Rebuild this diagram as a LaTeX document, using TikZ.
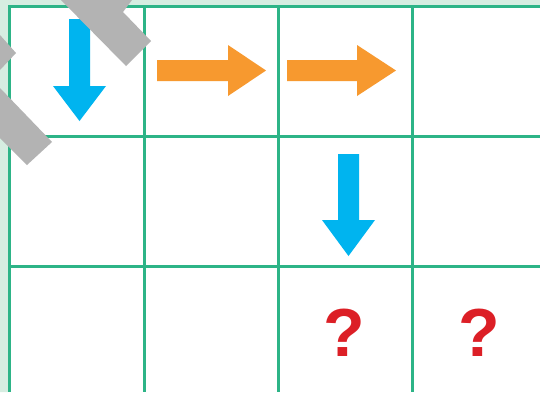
\documentclass[tikz,border=0pt]{standalone}
\usepackage{fontspec}
\setmainfont{Liberation Sans}
\usepackage{tikz}
\usetikzlibrary{calc}
\definecolor{bleu}{HTML}{00B4EF}
\definecolor{orange}{HTML}{F7992F}
\definecolor{gris}{HTML}{B3B3B3}
\definecolor{vertgrille}{HTML}{2DB487}
\definecolor{fond}{HTML}{D6EDE1}
\definecolor{rouge}{HTML}{DC1F26}
\tikzset{grid line/.style={draw=vertgrille,line width=3pt},down arrow/.style={fill=bleu},right arrow/.style={fill=orange},
 bar/.style={fill=gris},qmark/.style={text=rouge,font=\bfseries\fontsize{68}{68}\selectfont,inner sep=0pt}}

\begin{document}
\begin{tikzpicture}[x=1pt,y=-1pt]
\useasboundingbox (0,0) rectangle (540,392);
\clip (0,0) rectangle (540,392);
% Fond blanc et bandes vert pale a gauche et en haut.
\fill[white] (0,0) rectangle (540,392);
\fill[fond] (0,0) rectangle (8,392) (0,0) rectangle (540,5);
% Quadrillage : cellules de 134 x 130.
\foreach \x in {9.5,144.5,278.5,412.5}
 \draw[grid line] (\x,5) -- (\x,392);
\foreach \y in {6.5,136.5,266.5}
 \draw[grid line] (8,\y) -- (540,\y);
% Fleches bleues vers le bas.
\fill[down arrow] (69,19)--(90,19)--(90,86)--(106,86)--(79.5,121)--(53,86)--(69,86)--cycle;
\fill[down arrow] (338,154)--(359,154)--(359,220)--(375,220)--(348.5,256)--(322,220)--(338,220)--cycle;
% Fleches orange vers la droite.
\fill[right arrow] (157,60)--(228,60)--(228,45)--(266,70.5)--(228,96)--(228,81)--(157,81)--cycle;
\fill[right arrow] (287,60)--(357,60)--(357,45)--(396,70.5)--(357,96)--(357,81)--(287,81)--cycle;
% Barres grises inclinees a 45 degres, par-dessus le reste.
\fill[bar] (61,0)--(132,0)--(123,12)--(151,41)--(126,66)--cycle;
\fill[bar] (0,35)--(16,53)--(0,70)--cycle;
\fill[bar] (0,88)--(52,142)--(27,165)--(0,138)--cycle;
% Cases inconnues.
\node[qmark] (q1) at (344.5,332.5) {?};
\node[qmark] (q2) at (479,332.5) {?};
\end{tikzpicture}
\end{document}
